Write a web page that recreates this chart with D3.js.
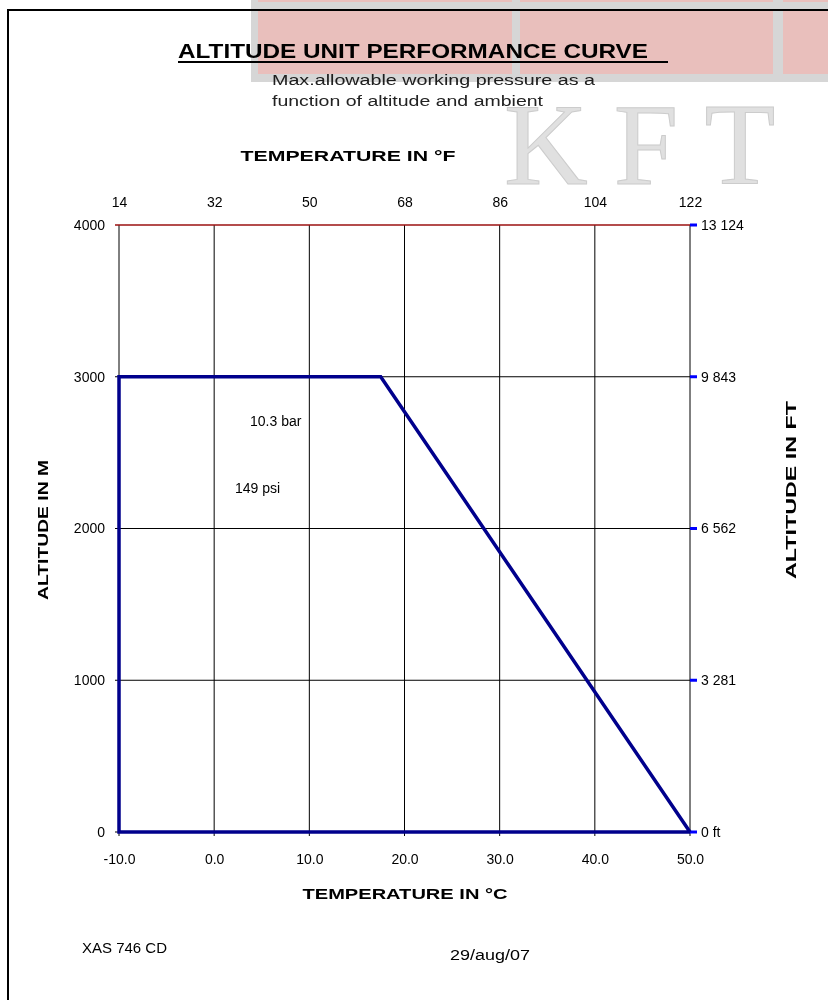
<!DOCTYPE html>
<html>
<head>
<meta charset="utf-8">
<script src="https://cdn.jsdelivr.net/npm/d3@7"></script>
<style>
    html, body { margin: 0; padding: 0; background: #fff; }
    svg { display: block; }
</style>
</head>
<body>
<svg id="chart"></svg>
<script>
const WIDTH = 828;
const HEIGHT = 1000;

// chart data
const celsiusTicks = [-10, 0, 10, 20, 30, 40, 50];
const fahrenheitLabels = ["14", "32", "50", "68", "86", "104", "122"];
const altitudeTicks = [0, 1000, 2000, 3000, 4000];
const feetLabels = ["0 ft", "3 281", "6 562", "9 843", "13 124"];
const curveTemps = [50, -10, -10, 17.5, 50];
const curveAltitudes = [0, 0, 3000, 3000, 0];

const svg = d3.select("#chart").attr("width", WIDTH).attr("height", HEIGHT);
const font = "'Liberation Sans', Arial, sans-serif";
const narrow = "'Liberation Sans Narrow', 'Liberation Sans', Arial, sans-serif";

const x = d3.scaleLinear().domain([-10, 50]).range([119, 690]);
const y = d3.scaleLinear().domain([0, 4000]).range([832, 225]);

// page frame
svg.append("path")
    .attr("d", `M8,${HEIGHT} V10 H${WIDTH}`)
    .attr("fill", "none")
    .attr("stroke", "#000")
    .attr("stroke-width", 2);

// big KFT watermark
svg.append("g")
    .selectAll("text")
    .data([["K", 546], ["F", 646], ["T", 740]])
    .join("text")
    .attr("x", (d) => d[1])
    .attr("y", 184)
    .attr("text-anchor", "middle")
    .attr("font-family", "'Liberation Serif', 'DejaVu Serif', serif")
    .attr("font-size", 116)
    .attr("fill", "#e0e0e0")
    .attr("stroke", "#cccccc")
    .attr("stroke-width", 1)
    .text((d) => d[0]);

// grid
const grid = svg.append("g");
grid.selectAll("line.v")
    .data(celsiusTicks)
    .join("line")
    .attr("class", "v")
    .attr("x1", (d) => x(d)).attr("x2", (d) => x(d))
    .attr("y1", y(4000)).attr("y2", y(0) + 4)
    .attr("stroke", "#000").attr("stroke-width", 1);
grid.selectAll("line.h")
    .data(altitudeTicks.filter((d) => d < 4000))
    .join("line")
    .attr("class", "h")
    .attr("x1", x(-10) - 4).attr("x2", x(50))
    .attr("y1", (d) => y(d)).attr("y2", (d) => y(d))
    .attr("stroke", "#000").attr("stroke-width", 1);
grid.append("line")
    .attr("x1", x(-10) - 4).attr("x2", x(50))
    .attr("y1", y(4000)).attr("y2", y(4000))
    .attr("stroke", "#9b1010").attr("stroke-width", 1.5);

const styleTicks = (g) => {
    g.select(".domain").remove();
    g.selectAll("text").attr("font-family", font).attr("font-size", 14).attr("fill", "#000");
};

// left axis labels
svg.append("g")
    .attr("transform", `translate(${x(-10)},0)`)
    .call(d3.axisLeft(y).tickValues(altitudeTicks).tickSize(0).tickPadding(14).tickFormat((d) => String(d)))
    .call(styleTicks);

// bottom axis labels
svg.append("g")
    .attr("transform", `translate(0,${y(0)})`)
    .call(d3.axisBottom(x).tickValues(celsiusTicks).tickSize(0).tickPadding(22).tickFormat((d) => d.toFixed(1)))
    .call(styleTicks);

// top axis (fahrenheit)
svg.append("g")
    .attr("transform", `translate(0,${y(4000)})`)
    .call(d3.axisTop(x).tickValues(celsiusTicks).tickSize(0).tickPadding(18)
        .tickFormat((d, i) => fahrenheitLabels[i]))
    .call(styleTicks);

// right axis (feet)
svg.append("g")
    .attr("transform", `translate(${x(50)},0)`)
    .call(d3.axisRight(y).tickValues(altitudeTicks).tickSize(0).tickPadding(11)
        .tickFormat((d, i) => feetLabels[i]))
    .call(styleTicks);
svg.append("g")
    .selectAll("line")
    .data(altitudeTicks)
    .join("line")
    .attr("x1", x(50)).attr("x2", x(50) + 7)
    .attr("y1", (d) => y(d)).attr("y2", (d) => y(d))
    .attr("stroke", "#0000ff").attr("stroke-width", 3);

// performance curve
const line = d3.line()
    .x((d) => x(d.t))
    .y((d) => y(d.a));
const curve = curveTemps.map((t, i) => ({ t, a: curveAltitudes[i] }));
svg.append("path")
    .datum(curve)
    .attr("d", line)
    .attr("fill", "none")
    .attr("stroke", "#00008c")
    .attr("stroke-width", 3.5)
    .attr("stroke-linejoin", "miter");

// pressure notes
svg.append("text").attr("x", 250).attr("y", 426)
    .attr("font-family", font).attr("font-size", 14).text("10.3 bar");
svg.append("text").attr("x", 235).attr("y", 493)
    .attr("font-family", font).attr("font-size", 14).text("149 psi");

// axis titles (bold condensed)
const boldLabel = (text, tx, ty, len, rotate) => {
    svg.append("text")
        .attr("transform", `translate(${tx},${ty})${rotate ? " rotate(-90)" : ""}`)
        .attr("text-anchor", "middle")
        .attr("font-family", narrow)
        .attr("font-weight", "bold")
        .attr("font-size", 15)
        .attr("textLength", len)
        .attr("lengthAdjust", "spacingAndGlyphs")
        .text(text);
};
boldLabel("TEMPERATURE   IN °F", 348, 161, 215, false);
boldLabel("TEMPERATURE  IN °C", 405, 899, 205, false);
boldLabel("ALTITUDE IN M", 48, 530, 140, true);
boldLabel("ALTITUDE   IN   FT", 796, 490, 178, true);

// title
svg.append("text")
    .attr("x", 178).attr("y", 58)
    .attr("font-family", narrow)
    .attr("font-weight", "bold")
    .attr("font-size", 21)
    .attr("textLength", 470)
    .attr("lengthAdjust", "spacingAndGlyphs")
    .text("ALTITUDE UNIT PERFORMANCE CURVE");
svg.append("line")
    .attr("x1", 178).attr("x2", 668)
    .attr("y1", 62).attr("y2", 62)
    .attr("stroke", "#000").attr("stroke-width", 2);

svg.append("text").attr("x", 272).attr("y", 85)
    .attr("font-family", font).attr("font-size", 14).attr("fill", "#222")
    .attr("textLength", 323).attr("lengthAdjust", "spacingAndGlyphs")
    .text("Max.allowable working pressure as a");
svg.append("text").attr("x", 272).attr("y", 106)
    .attr("font-family", font).attr("font-size", 14).attr("fill", "#222")
    .attr("textLength", 271).attr("lengthAdjust", "spacingAndGlyphs")
    .text("function of altitude and ambient");

// footer
svg.append("text").attr("x", 82).attr("y", 953)
    .attr("font-family", font).attr("font-size", 14)
    .attr("textLength", 85).attr("lengthAdjust", "spacingAndGlyphs")
    .text("XAS 746 CD");
svg.append("text").attr("x", 450).attr("y", 960)
    .attr("font-family", font).attr("font-size", 14)
    .attr("textLength", 80).attr("lengthAdjust", "spacingAndGlyphs")
    .text("29/aug/07");

// header banner overlay (gray frame with pink panels)
const panels = [[258, 254], [520, 253], [783, 50]];
const banner = svg.append("g").style("mix-blend-mode", "multiply");
banner.append("rect")
    .attr("x", 251).attr("y", 0).attr("width", WIDTH - 251).attr("height", 82)
    .attr("fill", "#d6d6d6");
banner.selectAll("rect.panel")
    .data(panels)
    .join("rect")
    .attr("class", "panel")
    .attr("x", (d) => d[0]).attr("y", 11)
    .attr("width", (d) => d[1]).attr("height", 63)
    .attr("fill", "#e9bfbc");
banner.selectAll("rect.top")
    .data(panels)
    .join("rect")
    .attr("class", "top")
    .attr("x", (d) => d[0]).attr("y", 0)
    .attr("width", (d) => d[1]).attr("height", 2)
    .attr("fill", "#e9bfbc");
</script>
</body>
</html>
